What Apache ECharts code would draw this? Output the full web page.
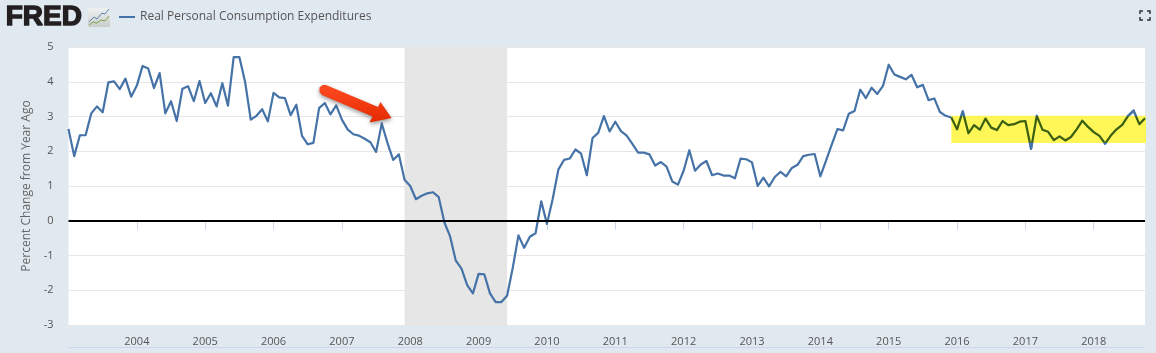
<!DOCTYPE html>
<html>
<head>
<meta charset="utf-8">
<title>Real Personal Consumption Expenditures</title>
<script src="https://cdn.jsdelivr.net/npm/echarts@6/dist/echarts.min.js"></script>
<style>
html,body{margin:0;padding:0;background:#e1e9f0}
#main{width:1156px;height:353px}
</style>
</head>
<body>
<div id="main"></div>
<script>
var seriesName = 'Real Personal Consumption Expenditures'
var axisTitle = 'Percent Change from Year Ago'

// monthly, Jan 2003 - Oct 2018
var months = []
for (var y = 2003; y <= 2018; y++) {
    for (var m = 1; m <= 12; m++) {
        if (y == 2018 && m > 10) break
        months.push(y + '-' + (m < 10 ? '0' + m : m))
    }
}

var values = [
    2.64, 1.86, 2.46, 2.46, 3.09, 3.29, 3.12, 3.98, 4.01, 3.79, 4.09, 3.57,
    3.89, 4.45, 4.38, 3.82, 4.25, 3.09, 3.44, 2.87, 3.80, 3.87, 3.44, 4.02,
    3.39, 3.67, 3.29, 3.96, 3.31, 4.71, 4.71, 4.00, 2.91, 3.02, 3.21, 2.86,
    3.68, 3.55, 3.53, 3.04, 3.34, 2.44, 2.20, 2.24, 3.24, 3.39, 3.06, 3.32,
    2.91, 2.63, 2.49, 2.45, 2.36, 2.26, 1.98, 2.80, 2.24, 1.75, 1.91, 1.18,
    1.00, 0.62, 0.72, 0.79, 0.82, 0.68, -0.05, -0.45, -1.15, -1.38, -1.85, -2.09,
    -1.53, -1.54, -2.09, -2.34, -2.34, -2.16, -1.35, -0.42, -0.78, -0.46, -0.36, 0.56,
    -0.09, 0.62, 1.47, 1.75, 1.79, 2.05, 1.93, 1.31, 2.38, 2.53, 3.01, 2.57,
    2.85, 2.58, 2.45, 2.21, 1.96, 1.96, 1.91, 1.59, 1.69, 1.56, 1.13, 1.04,
    1.44, 2.03, 1.44, 1.62, 1.72, 1.31, 1.36, 1.30, 1.30, 1.22, 1.79, 1.77,
    1.68, 1.00, 1.24, 0.99, 1.26, 1.41, 1.28, 1.52, 1.61, 1.86, 1.90, 1.92,
    1.28, 1.73, 2.19, 2.64, 2.60, 3.08, 3.16, 3.77, 3.53, 3.83, 3.65, 3.88,
    4.49, 4.21, 4.14, 4.07, 4.20, 3.84, 3.91, 3.47, 3.52, 3.13, 3.02, 2.97,
    2.63, 3.15, 2.52, 2.75, 2.62, 2.94, 2.68, 2.61, 2.87, 2.75, 2.78, 2.85,
    2.87, 2.07, 3.02, 2.62, 2.56, 2.32, 2.43, 2.31, 2.41, 2.63, 2.88, 2.70,
    2.55, 2.44, 2.22, 2.45, 2.63, 2.76, 3.01, 3.17, 2.78, 2.95
]

var recession = ['2007-12', '2009-06']
var highlightX = ['2015-12', '2018-10']
var highlightY = [2.24, 3.02]

var chart = echarts.init(document.getElementById('main'))

// 只在每年一月画刻度和标签，2003 不显示
function isYearStart(idx, name) {
    return idx > 0 && name.slice(5) == '01'
}

var hlStart = months.indexOf(highlightX[0])
var hlEnd = months.indexOf(highlightX[1])

var option = {
    backgroundColor: '#e1e9f0',
    animation: false,
    textStyle: { fontFamily: '"Open Sans"' },
    legend: {
        left: 119,
        top: 11,
        padding: 0,
        itemWidth: 16,
        itemHeight: 2,
        itemGap: 5,
        icon: 'rect',
        data: [seriesName],
        textStyle: { color: '#555', fontSize: 12, fontFamily: '"Open Sans"' }
    },
    grid: { left: 68.5, right: 11, top: 47, bottom: 28, backgroundColor: '#fff', show: true, borderWidth: 0 },
    xAxis: {
        type: 'category',
        data: months,
        boundaryGap: false,
        axisLine: { lineStyle: { color: '#ccd6eb', width: 1 } },
        axisTick: { interval: isYearStart, length: 9, lineStyle: { color: '#ccd6eb' } },
        axisLabel: {
            interval: isYearStart,
            formatter: function (v) { return v.slice(0, 4) },
            color: '#555',
            fontSize: 11,
            margin: 11,
            hideOverlap: false
        },
        splitLine: { show: false }
    },
    yAxis: {
        type: 'value',
        min: -3,
        max: 5,
        interval: 1,
        name: axisTitle,
        nameLocation: 'middle',
        nameGap: 33,
        nameTextStyle: { color: '#666', fontSize: 12 },
        axisLine: { show: false },
        axisTick: { show: false },
        axisLabel: { color: '#555', fontSize: 11, margin: 15 },
        splitLine: { lineStyle: { color: '#e6e6e6', width: 1 } }
    },
    series: [
        {
            name: seriesName,
            type: 'line',
            data: values,
            showSymbol: false,
            symbol: 'none',
            z: 3,
            lineStyle: { color: '#4572a7', width: 2.2, join: 'round' },
            itemStyle: { color: '#4572a7' },
            markArea: {
                silent: true,
                z: 1,
                itemStyle: { color: '#e6e6e6', opacity: 1 },
                data: [[{ xAxis: recession[0] }, { xAxis: recession[1] }]]
            },
            markLine: {
                silent: true,
                symbol: 'none',
                animation: false,
                label: { show: false },
                lineStyle: { color: '#000', width: 2, type: 'solid' },
                data: [{ yAxis: 0 }]
            }
        },
        {
            name: 'highlight',
            type: 'custom',
            z: 6,
            silent: true,
            data: [[hlStart, highlightY[0], hlEnd, highlightY[1]]],
            encode: { x: [0, 2], y: [1, 3] },
            renderItem: function (params, api) {
                var a = api.coord([api.value(0), api.value(1)])
                var b = api.coord([api.value(2), api.value(3)])
                return {
                    type: 'rect',
                    shape: { x: a[0], y: b[1], width: b[0] - a[0] + 1, height: a[1] - b[1] },
                    style: { fill: 'rgba(255,245,60,0.86)' }
                }
            }
        },
        {
            name: 'highlighted line',
            type: 'line',
            z: 7,
            silent: true,
            showSymbol: false,
            symbol: 'none',
            data: values.map(function (v, i) { return i >= hlStart ? v : null }),
            lineStyle: { width: 2.2, join: 'round', color: '#3c6012' }
        }
    ],
    graphic: [
        // FRED logo
        { type: 'text', left: 5, top: 3, z: 100, style: { text: 'FRED', fill: '#231f20', stroke: '#231f20', lineWidth: 1.4, font: 'bold 28px "Liberation Sans"' } },
        { type: 'rect', z: 100, shape: { x: 88, y: 8, width: 22, height: 19, r: 1 }, style: {
            fill: new echarts.graphic.LinearGradient(0, 0, 0, 1, [{ offset: 0, color: '#eef1f2' }, { offset: 1, color: '#c9cdc9' }]) } },
        { type: 'polyline', z: 101, shape: { points: [[89, 22], [94, 17], [97, 19], [102, 13], [105, 14], [109, 9]] }, style: { stroke: '#5f85b0', fill: null, lineWidth: 1 } },
        { type: 'polyline', z: 101, shape: { points: [[89, 25], [93, 22], [97, 23], [101, 20], [105, 21], [109, 16]] }, style: { stroke: '#7da04a', fill: null, lineWidth: 1 } },
        // fullscreen icon
        { type: 'polyline', z: 100, shape: { points: [[1140, 14], [1140, 11], [1143, 11]] }, style: { stroke: '#333', fill: null, lineWidth: 1.5 } },
        { type: 'polyline', z: 100, shape: { points: [[1147, 11], [1150, 11], [1150, 14]] }, style: { stroke: '#333', fill: null, lineWidth: 1.5 } },
        { type: 'polyline', z: 100, shape: { points: [[1140, 17], [1140, 20], [1143, 20]] }, style: { stroke: '#333', fill: null, lineWidth: 1.5 } },
        { type: 'polyline', z: 100, shape: { points: [[1147, 20], [1150, 20], [1150, 17]] }, style: { stroke: '#333', fill: null, lineWidth: 1.5 } },
        // line under the time labels
        { type: 'line', z: 100, shape: { x1: 69, y1: 347.5, x2: 1145, y2: 347.5 }, style: { stroke: '#ccd6eb', lineWidth: 1 } },
        // red arrow
        { type: 'polygon', z: 110, shape: { points: [[326, 85], [378, 107], [380.5, 102], [391.5, 118], [369.5, 122.5], [372.5, 116.5], [322, 95], [319.5, 92], [319.5, 87.5], [322.5, 85]] },
          style: {
            fill: new echarts.graphic.LinearGradient(0, 0, 0, 1, [{ offset: 0, color: '#ff4a22' }, { offset: 1, color: '#e52a00' }]),
            shadowBlur: 4, shadowColor: 'rgba(0,0,0,0.4)', shadowOffsetY: 2
          } }
    ]
}

chart.setOption(option)

// 高亮框里的线是深绿，框外露出来的还是蓝色
var bandTop = chart.convertToPixel({ yAxisIndex: 0 }, highlightY[1])
var bandBottom = chart.convertToPixel({ yAxisIndex: 0 }, highlightY[0])
var edge = 1 / (bandBottom - bandTop)
chart.setOption({
    series: [{}, {}, {
        lineStyle: {
            color: new echarts.graphic.LinearGradient(0, bandTop, 0, bandBottom, [
                { offset: 0, color: '#4572a7' },
                { offset: edge, color: '#3c6012' },
                { offset: 1 - edge, color: '#3c6012' },
                { offset: 1, color: '#4572a7' }
            ], true)
        }
    }]
})
</script>
</body>
</html>
